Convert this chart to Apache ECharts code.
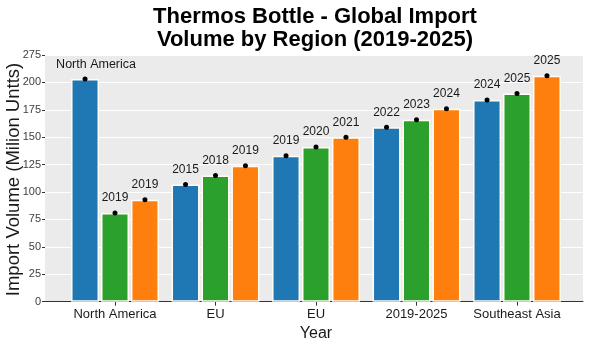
<!DOCTYPE html>
<html>
<head>
<meta charset="utf-8">
<script src="https://cdn.jsdelivr.net/npm/echarts@6/dist/echarts.min.js"></script>
<style>
  html, body { margin: 0; padding: 0; background: #ffffff; }
  #chart { width: 600px; height: 342px; }
</style>
</head>
<body>
<div id="chart"></div>
<script>
// Regions on the category axis
const regions = ['North America', 'EU', 'EU', '2019-2025', 'Southeast Asia'];

// Import volume (million units) per series
const blueValues   = [203, 107, 133, 159, 184];
const greenValues  = [81, 115, 141, 166, 190];
const orangeValues = [93, 124, 150, 176, 206];

// Text shown above each bar
const blueLabels   = ['North America', '2015', '2019', '2022', '2024'];
const greenLabels  = ['2019', '2018', '2020', '2023', '2025'];
const orangeLabels = ['2019', '2019', '2021', '2024', '2025'];

// Y-axis tick values and the text printed beside them
const yTicks      = [0, 25, 50, 75, 100, 125, 150, 175, 200, 225];
const yTickLabels = ['0', '25', '50', '75', '100', '125', '150', '175', '200', '275'];

const FONT = 'Liberation Sans, Arial, Helvetica, sans-serif';

function barSeries(name, color, values, labels) {
  return {
    name: name,
    type: 'bar',
    xAxisIndex: 1,
    yAxisIndex: 1,
    barWidth: 28,
    barGap: '7%',
    itemStyle: { color: color, borderColor: '#fffdf4', borderWidth: 1.5 },
    label: {
      show: true,
      position: 'top',
      distance: -2.5,
      formatter: function (p) {
        const txt = labels[p.dataIndex];
        const key = txt.length > 6 ? 'w' : 't';
        return '{' + key + '|' + txt + '}\n{d| }';
      },
      rich: {
        t: { fontFamily: FONT, fontSize: 12, color: '#1a1a1a', lineHeight: 25 },
        w: { fontFamily: FONT, fontSize: 12.5, color: '#1a1a1a', lineHeight: 25, padding: [0, 0, 0, 22] },
        d: { width: 5, height: 5, lineHeight: 5, backgroundColor: '#000', borderRadius: 2.5 }
      }
    },
    data: values
  };
}

const chart = echarts.init(document.getElementById('chart'), null, { renderer: 'canvas' });
chart.setOption({
  animation: false,
  backgroundColor: '#ffffff',
  title: {
    text: 'Thermos Bottle - Global Import\nVolume by Region (2019-2025)',
    left: 310,
    top: 0,
    textAlign: 'center',
    textStyle: { fontFamily: FONT, fontSize: 22, fontWeight: 'bold', color: '#000', lineHeight: 23 }
  },
  graphic: [
    {
      type: 'text',
      x: 14,
      y: 179.5,
      rotation: Math.PI / 2,
      style: {
        text: 'Import Volume (Milion Untts)',
        fontFamily: FONT,
        fontSize: 18.5,
        fill: '#1a1a1a',
        align: 'center',
        verticalAlign: 'middle'
      }
    }
  ],
  grid: [
    // panel with the value axis and gridlines
    { left: 45, right: 17, top: 55, bottom: 40.3, show: true, backgroundColor: '#ebebeb', borderWidth: 0,
      containLabel: false, outerBoundsMode: 'none' },
    // band holding the bar groups
    { left: 64.75, right: 32.75, top: 55, bottom: 40.3, containLabel: false, outerBoundsMode: 'none' }
  ],
  xAxis: [
    {
      gridIndex: 0, type: 'value', min: 0, max: 1,
      axisLine: { show: true, onZero: false, lineStyle: { color: '#333', width: 1 } },
      axisTick: { show: false }, axisLabel: { show: false }, splitLine: { show: false }
    },
    {
      gridIndex: 1, type: 'category', data: regions,
      axisLine: { show: false },
      axisTick: { show: true, alignWithLabel: true, length: 4, lineStyle: { color: '#333' } },
      axisLabel: { fontFamily: FONT, fontSize: 13, color: '#1a1a1a', margin: 6, interval: 0 },
      name: 'Year', nameLocation: 'middle', nameGap: 22,
      nameTextStyle: { fontFamily: FONT, fontSize: 16, color: '#1a1a1a' }
    }
  ],
  yAxis: [
    {
      gridIndex: 0, type: 'value', min: 0, max: 225, interval: 25,
      axisLine: { show: false },
      axisTick: { show: true, length: 3, lineStyle: { color: '#333' } },
      axisLabel: {
        fontFamily: FONT, fontSize: 11, color: '#404040', margin: 4,
        formatter: function (v) { const i = yTicks.indexOf(v); return i >= 0 ? yTickLabels[i] : ''; }
      },
      splitLine: { show: true, lineStyle: { color: '#ffffff', width: 1 } }
    },
    {
      gridIndex: 1, type: 'value', min: 0, max: 225, interval: 25,
      axisLine: { show: false }, axisTick: { show: false }, axisLabel: { show: false }, splitLine: { show: false }
    }
  ],
  series: [
    barSeries('blue', '#1f77b4', blueValues, blueLabels),
    barSeries('green', '#2ca02c', greenValues, greenLabels),
    barSeries('orange', '#ff7f0e', orangeValues, orangeLabels)
  ]
});
</script>
</body>
</html>
